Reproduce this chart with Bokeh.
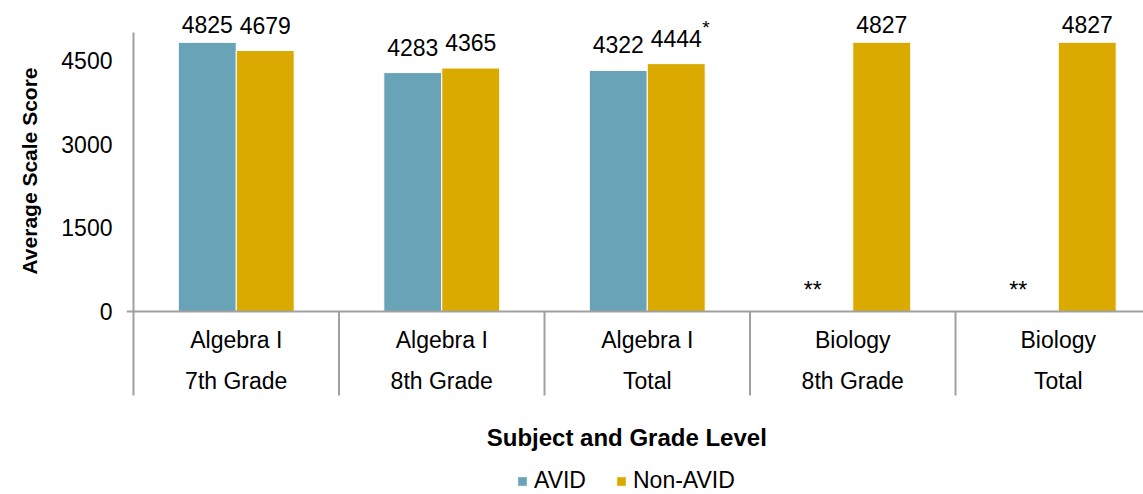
import numpy as np
from bokeh.plotting import figure
from bokeh.models import (ColumnDataSource, Range1d, FixedTicker, LabelSet, Label,
                          Legend, LegendItem, Span, Title)
from bokeh.embed import file_html
from bokeh.resources import INLINE
from bokeh.core.properties import value

# ---- data ----
subjects = ["Algebra I", "Algebra I", "Algebra I", "Biology", "Biology"]
grades = ["7th Grade", "8th Grade", "Total", "8th Grade", "Total"]
avid = [4825, 4283, 4322, None, None]
non_avid = [4679, 4365, 4444, 4827, 4827]
non_avid_notes = ["", "", "*", "", ""]
missing_mark = "**"
y_ticks = [0, 1500, 3000, 4500]
y_axis_max = 5000
series = ["AVID", "Non-AVID"]
colors = ["#68A3B8", "#DBAA00"]
x_title = "Subject and Grade Level"
y_title = "Average Scale Score"

# ---- layout constants (pixels) ----
FONT = "Liberation Sans"
GRAY = "#a0a0a0"
W, H = 1143, 494
LEFT = 126               # frame left edge
SPINE_PX = 133           # x pixel of category 0 boundary
CAT_PX = 205.5           # pixels per category
ZERO_PX = 311            # y pixel of value 0
PX_PER_UNIT = 251 / 4500  # vertical pixels per score unit
SEP_LEN = 84             # separator length below the zero line
BAR_W = 0.282
LABEL_CAP = 4680

idx = np.arange(len(subjects))
centers = idx + 0.5
x_avid = centers - BAR_W / 2
x_non = centers + BAR_W / 2

x_start = -(SPINE_PX - LEFT) / CAT_PX
x_end = (W - SPINE_PX) / CAT_PX
y_start = -(H - ZERO_PX) / PX_PER_UNIT
y_end = ZERO_PX / PX_PER_UNIT

p = figure(width=W, height=H,
           x_range=Range1d(x_start, x_end), y_range=Range1d(y_start, y_end),
           output_backend="svg", toolbar_location=None,
           min_border_left=LEFT, min_border_right=0, min_border_top=0,
           min_border_bottom=0)
p.grid.visible = False
p.outline_line_color = None
p.background_fill_color = "white"
p.border_fill_color = "white"
p.xaxis.visible = False

# zero line, spine and category separators
p.add_layout(Span(location=0, dimension="width", line_color=GRAY, line_width=2))
sep_x = np.arange(len(subjects) + 1)
sep_bottom = -SEP_LEN / PX_PER_UNIT
p.segment(x0=sep_x, y0=[sep_bottom] * len(sep_x), x1=sep_x,
          y1=[y_axis_max] + [0] * (len(sep_x) - 1),
          line_color=GRAY, line_width=2)

# bars
avid_top = np.array([np.nan if v is None else v for v in avid], dtype=float)
src_a = ColumnDataSource(dict(x=x_avid, top=avid_top))
src_n = ColumnDataSource(dict(x=x_non, top=np.array(non_avid, dtype=float)))
r_a = p.vbar(x="x", top="top", width=BAR_W, source=src_a,
             fill_color=colors[0], line_color="white", line_width=1)
r_n = p.vbar(x="x", top="top", width=BAR_W, source=src_n,
             fill_color=colors[1], line_color="white", line_width=1)

# value labels
valid = [i for i, v in enumerate(avid) if v is not None]
missing = [i for i, v in enumerate(avid) if v is None]
lab_a = ColumnDataSource(dict(x=[x_avid[i] for i in valid],
                              y=[min(avid[i], LABEL_CAP) for i in valid],
                              text=[str(avid[i]) for i in valid]))
lab_n = ColumnDataSource(dict(x=x_non, y=[min(v, LABEL_CAP) for v in non_avid],
                              text=[str(v) for v in non_avid]))
lab_m = ColumnDataSource(dict(x=[x_avid[i] for i in missing],
                              y=[0 for i in missing],
                              text=[missing_mark for i in missing]))
lab_note = ColumnDataSource(dict(x=x_non, y=[min(v, LABEL_CAP) for v in non_avid],
                                 text=non_avid_notes))

common = dict(text_font=value(FONT), text_font_size="23px", text_color="#000000")
p.add_layout(LabelSet(x="x", y="y", text="text", source=lab_a, text_align="center",
                      text_baseline="alphabetic", y_offset=17, **common))
p.add_layout(LabelSet(x="x", y="y", text="text", source=lab_n, text_align="center",
                      text_baseline="alphabetic", y_offset=17, **common))
p.add_layout(LabelSet(x="x", y="y", text="text", source=lab_m, text_align="center",
                      text_baseline="alphabetic", x_offset=-11, y_offset=14, **common))
p.add_layout(LabelSet(x="x", y="y", text="text", source=lab_note, text_align="left",
                      text_baseline="alphabetic", x_offset=26, y_offset=30,
                      text_font=value(FONT), text_font_size="19px", text_color="#000000"))

# category labels (two lines)
cat1 = ColumnDataSource(dict(x=centers, y=np.zeros(len(subjects)), text=subjects))
cat2 = ColumnDataSource(dict(x=centers, y=np.zeros(len(subjects)), text=grades))
p.add_layout(LabelSet(x="x", y="y", text="text", source=cat1, text_align="center",
                      text_baseline="alphabetic", y_offset=-36, **common))
p.add_layout(LabelSet(x="x", y="y", text="text", source=cat2, text_align="center",
                      text_baseline="alphabetic", y_offset=-77, **common))

# x axis title
p.add_layout(Label(x=(x_start + x_end) / 2 - 0.04, y=0, y_offset=-126, text=x_title,
                   text_align="center", text_baseline="alphabetic",
                   text_font=FONT, text_font_size="24px", text_font_style="bold",
                   text_color="#000000"))

# y axis (tick labels only)
ya = p.yaxis[0]
ya.ticker = FixedTicker(ticks=y_ticks)
ya.major_tick_in = 0
ya.major_tick_out = 0
ya.minor_tick_line_color = None
ya.major_tick_line_color = None
ya.axis_line_color = None
ya.major_label_standoff = 14
ya.major_label_text_font = FONT
ya.major_label_text_font_size = "23px"
ya.major_label_text_color = "#000000"

p.add_layout(Title(text=y_title, align="right", offset=67, standoff=32,
                   vertical_align="top",
                   text_font=FONT, text_font_size="21px", text_font_style="bold",
                   text_color="#000000"), "left")

legend = Legend(items=[LegendItem(label=series[0], renderers=[r_a]),
                       LegendItem(label=series[1], renderers=[r_n])],
                orientation="horizontal", location=(SPINE_PX - LEFT + 383, 0),
                label_text_font=FONT, label_text_font_size="23px",
                label_text_color="#000000",
                glyph_width=12, glyph_height=12, label_standoff=6, spacing=29,
                padding=0, margin=0, border_line_color=None,
                background_fill_alpha=0)
p.add_layout(legend)

open("out.html", "w").write(file_html(p, INLINE))
